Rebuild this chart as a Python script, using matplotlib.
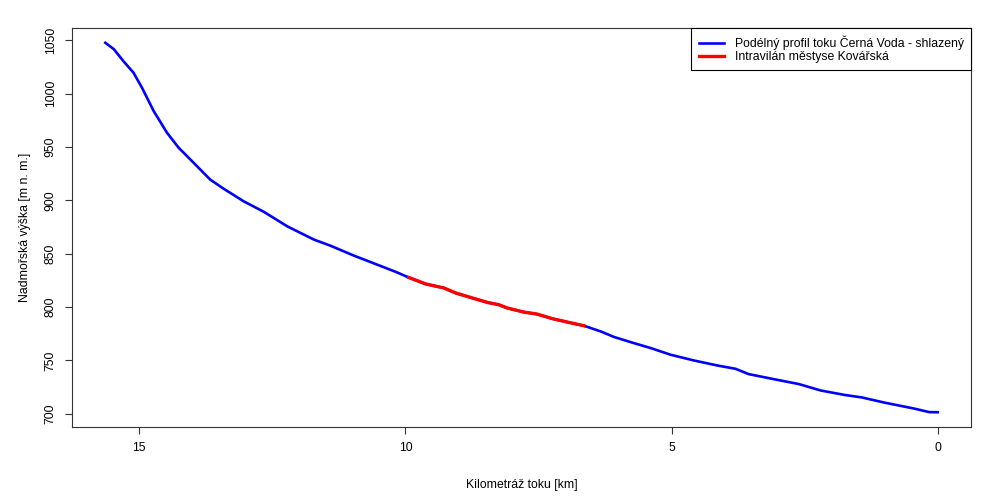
import matplotlib
matplotlib.use("Agg")
import matplotlib.pyplot as plt

km = [15.64, 15.48, 15.30, 15.11, 14.95, 14.73, 14.48, 14.26, 14.04, 13.67, 13.42, 13.04, 12.66,
      12.22, 11.72, 11.41, 10.97, 10.53, 10.16, 9.94,
      9.62, 9.28, 9.06, 8.78, 8.46, 8.25, 8.09, 7.78, 7.53, 7.24, 6.96, 6.65,
      6.33, 6.08, 5.71, 5.39, 5.02, 4.58, 4.14, 3.80, 3.55, 3.08, 2.61, 2.20,
      1.76, 1.42, 1.01, 0.45, 0.16, 0.0]
elev = [1047.8, 1041.8, 1030.6, 1019.7, 1005.6, 983.7, 963.4, 949.3, 938.3, 919.6, 911.1, 899.2, 889.3,
        875.7, 863.3, 857.6, 848.3, 839.8, 832.6, 827.8,
        821.7, 818.0, 813.3, 809.1, 804.4, 802.3, 799.2, 795.4, 793.5, 789.2, 786.0, 782.6,
        777.2, 772.0, 766.3, 761.6, 755.4, 750.0, 745.3, 742.2, 737.2, 732.5, 727.9, 721.9,
        717.8, 715.3, 710.6, 705.0, 701.6, 701.5]

town_km = [9.94, 9.62, 9.28, 9.06, 8.78, 8.46, 8.25, 8.09, 7.78, 7.53, 7.24, 6.96, 6.65]
town_elev = [827.8, 821.7, 818.0, 813.3, 809.1, 804.4, 802.3, 799.2, 795.4, 793.5, 789.2, 786.0, 782.6]

x_ticks = [15, 10, 5, 0]
y_ticks = [700, 750, 800, 850, 900, 950, 1000, 1050]

plt.rcParams['font.family'] = ['Liberation Sans', 'DejaVu Sans']
plt.rcParams['font.size'] = 8.8

fig = plt.figure(figsize=(10, 5), dpi=100)
ax = fig.add_axes([0.072, 0.146, 0.899, 0.798])

ax.plot(km, elev, color='#0000ff', lw=1.9, label='Podélný profil toku Černá Voda - shlazený',
        solid_joinstyle='round')
ax.plot(town_km, town_elev, color='#ff0000', lw=2.4, label='Intravilán městyse Kovářská',
        solid_joinstyle='round')

xr = max(km) - min(km)
ax.set_xlim(max(km) + 0.04 * xr, min(km) - 0.04 * xr)
yr = max(elev) - min(elev)
ax.set_ylim(min(elev) - 0.04 * yr, max(elev) + 0.04 * yr)

ax.set_xticks(x_ticks)
ax.set_xticklabels([str(t) for t in x_ticks])
ax.set_yticks(y_ticks)
ax.set_yticklabels([str(t) for t in y_ticks], rotation=90, va='center')
ax.tick_params(direction='out', length=5, width=0.8, color='#333333', pad=6)
for s in ax.spines.values():
    s.set_linewidth(0.8)
    s.set_color('#333333')

ax.set_xlabel('Kilometráž toku [km]', labelpad=18)
ax.set_ylabel('Nadmořská výška [m n. m.]', labelpad=10)

leg = ax.legend(loc='upper right', bbox_to_anchor=(1, 1), borderaxespad=0,
                fancybox=False, edgecolor='black', framealpha=1, handlelength=2.1,
                labelspacing=0.1, borderpad=0.6, handletextpad=0.85)
leg.get_frame().set_linewidth(0.8)

fig.savefig('out.png', dpi=100)
